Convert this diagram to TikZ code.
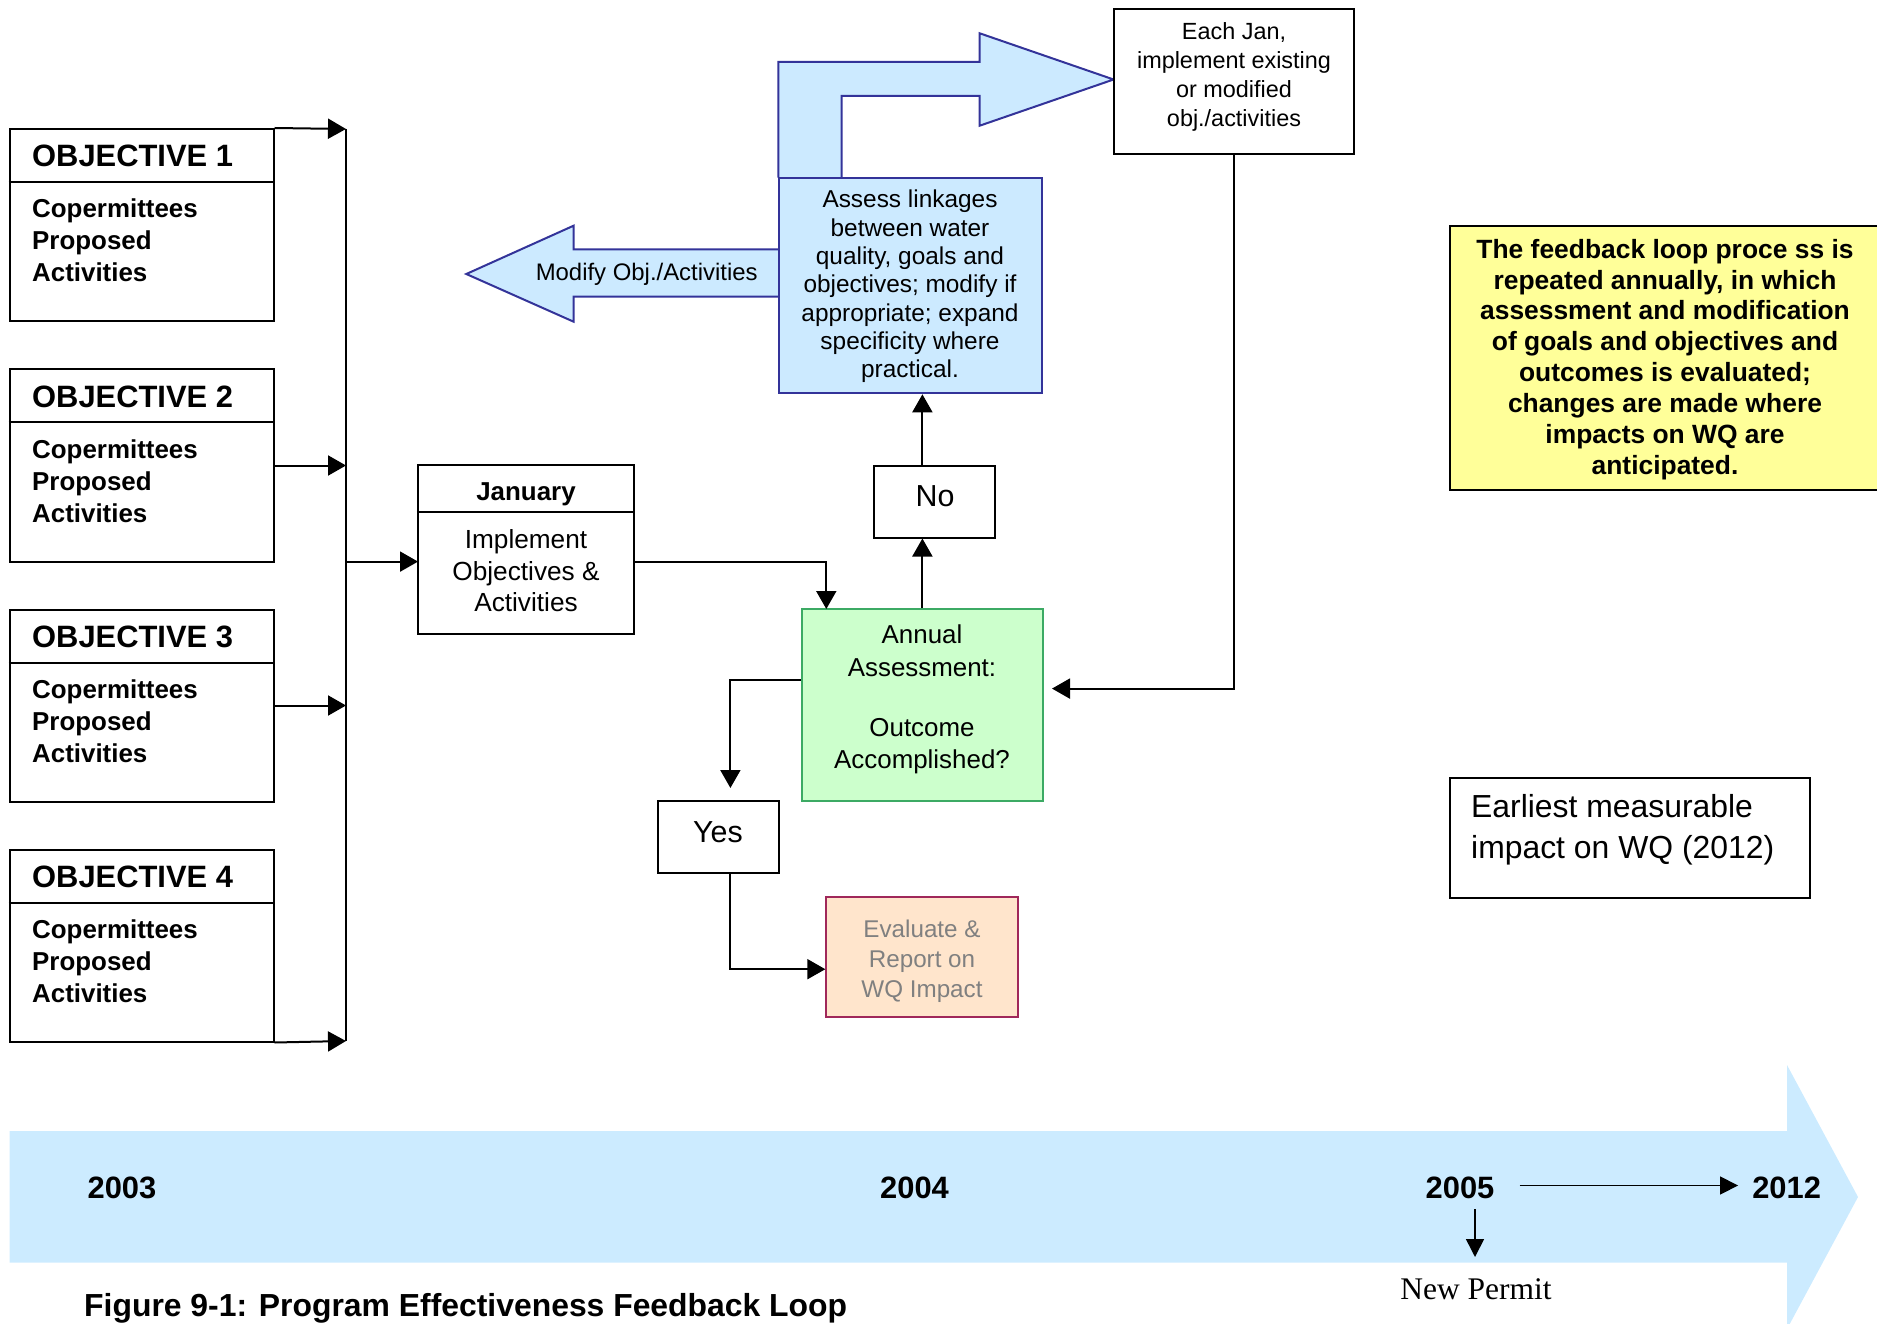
\documentclass[tikz,border=0pt]{standalone}
\usepackage{fontspec}
\setmainfont{Liberation Sans}
\newfontfamily\seriffont{Liberation Serif}
\usetikzlibrary{arrows.meta}
\newcommand\fsz[2]{\fontsize{#1}{#2}\selectfont}
\definecolor{asFill}{RGB}{204,234,255}
\definecolor{asBorder}{RGB}{51,51,153}
\definecolor{tlFill}{RGB}{204,235,255}
\definecolor{anFill}{RGB}{204,255,204}
\definecolor{anBorder}{RGB}{60,170,100}
\definecolor{evFill}{RGB}{255,229,204}
\definecolor{evBorder}{RGB}{160,40,90}
\definecolor{evText}{RGB}{128,128,128}
\definecolor{yelFill}{RGB}{255,255,153}
\tikzset{
  box/.style={draw=black, line width=2bp, rectangle, inner sep=0pt, fill=white},
  ln/.style={line width=2bp},
  arr/.style={line width=2bp, -{Triangle[length=18bp,width=20bp]}},
  tarr/.style={line width=1.6bp, -{Triangle[length=18bp,width=18bp]}},
  txt/.style={inner sep=0pt, align=center},
  objtitle/.style={inner sep=0pt, anchor=west, font=\fsz{31}{37}\bfseries},
  objbody/.style={inner sep=0pt, anchor=west, align=left, font=\fsz{26}{32.3}\bfseries},
  year/.style={inner sep=0pt, font=\fsz{31}{37}\bfseries},
  bigarrow/.style={fill=asFill, draw=asBorder, line width=2bp, line join=miter}
}
\begin{document}
\begin{tikzpicture}[x=1bp,y=-1bp]
\useasboundingbox (0,0) rectangle (1877,1324);
\clip (0,0) rectangle (1877,1324);

% timeline arrow
\fill[tlFill] (9.6,1131) -- (1787,1131) -- (1787,1065) -- (1858,1197) -- (1787,1329) -- (1787,1262.7) -- (9.6,1262.7) -- cycle;

% objective boxes
\foreach \i/\t in {1/129,2/369.5,3/609.5,4/849.5}{
  \node[box, minimum width=264bp, minimum height=192bp] (obj\i) at (141.7,\t+96) {};
  \draw[ln] ([yshift=-54bp]obj\i.north west) -- ([yshift=-54bp]obj\i.north east);
  \node[objtitle] (objt\i) at (32,\t+27) {OBJECTIVE \i};
  \node[objbody] (objb\i) at (32,\t+111.5) {Copermittees\\Proposed\\Activities};
}

% spine
\coordinate (spineTop) at (346,129);
\coordinate (spineBot) at (346,1041);
\draw[ln] (spineTop) -- (spineBot);
\draw[arr] (obj1.north east) -- (spineTop);
\draw[arr] (obj2.east) -- (obj2.east -| spineTop);
\draw[arr] (obj3.east) -- (obj3.east -| spineTop);
\draw[arr] (obj4.south east) -- (spineBot);

% January
\node[box, minimum width=216.5bp, minimum height=168bp] (jan) at (526,549.5) {};
\draw[ln] ([yshift=-47.8bp]jan.north west) -- ([yshift=-47.8bp]jan.north east);
\node[txt, font=\fsz{26}{31}\bfseries] (janT) at (526,494) {January};
\node[txt, font=\fsz{26.3}{31.6}] (janB) at (526,571) {Implement\\Objectives \&\\Activities};
\coordinate (janIn) at (418,561.6);
\draw[arr] (janIn -| spineTop) -- (janIn);

% big bent arrow (top)
\draw[bigarrow] (778.4,177.7) -- (778.4,62) -- (979.7,62) -- (979.7,33.3) -- (1113.6,79.5) -- (979.7,125.7) -- (979.7,96) -- (841.5,96) -- (841.5,177.7);
% left arrow
\draw[bigarrow] (778.4,249.3) -- (573.6,249.3) -- (573.6,225.7) -- (466.3,274) -- (573.6,321.7) -- (573.6,296.7) -- (778.4,296.7);
\node[txt, font=\fsz{24}{28}] (modT) at (646.7,274) {Modify Obj./Activities};

% Assess box
\node[box, draw=asBorder, fill=asFill, minimum width=263bp, minimum height=215.6bp] (assess) at (910,285.5) {};
\node[txt, font=\fsz{24.5}{28.4}] (assessT) at (910,286.5) {Assess linkages\\between water\\quality, goals and\\objectives; modify if\\appropriate; expand\\specificity where\\practical.};

% Each Jan box
\node[box, minimum width=240.5bp, minimum height=144.5bp] (eachjan) at (1234,81.7) {};
\node[txt, font=\fsz{23.5}{29.3}] (eachjanT) at (1234,77) {Each Jan,\\implement existing\\or modified\\obj./activities};

% No box
\node[box, minimum width=120.6bp, minimum height=72bp] (no) at (934.3,501.5) {};
\node[txt, font=\fsz{30.5}{36}] (noT) at (935,496) {No};

% Annual
\node[box, draw=anBorder, fill=anFill, minimum width=241bp, minimum height=192.4bp] (annual) at (922.4,705.2) {};
\node[txt, font=\fsz{26}{32.4}] (annualT) at (922,699.5) {Annual\\Assessment:\\[28bp]Outcome\\Accomplished?};

% Yes
\node[box, minimum width=120.6bp, minimum height=72.7bp] (yes) at (718.3,837) {};
\node[txt, font=\fsz{30.5}{36}] (yesT) at (718,832) {Yes};

% Evaluate
\node[box, draw=evBorder, fill=evFill, minimum width=192bp, minimum height=120.4bp] (eval) at (922.3,957.2) {};
\node[txt, font=\fsz{24.3}{30}, text=evText] (evalT) at (922,961) {Evaluate \&\\Report on\\WQ Impact};

% connectors of the loop
\coordinate (annIn) at (826.3,609);
\draw[arr] (janIn -| jan.east) -| (annIn);
\draw[arr] (annual.north) -- (annual.north |- no.south);
\draw[arr] (annual.north |- no.north) -- (annual.north |- assess.south);
\coordinate (yesIn) at (730.4,788);
\draw[arr] ([yshift=25bp]annual.west) -| (yesIn);
\draw[arr] (yesIn |- yes.south) |- ([yshift=-12bp]eval.west);
\coordinate (annRight) at (1052,688.6);
\draw[arr] (eachjan.south) |- (annRight);

% yellow note
\node[box, fill=yelFill, minimum width=432bp, minimum height=263.8bp] (note) at (1666,357.6) {};
\node[txt, font=\fsz{26.5}{31}\bfseries] (noteT) at (1665,359.5) {The feedback loop proce ss is\\repeated annually, in which\\assessment and modification\\of goals and objectives and\\outcomes is evaluated;\\changes are made where\\impacts on WQ are\\anticipated.};

% earliest box
\node[box, minimum width=360.4bp, minimum height=119.6bp] (earliest) at (1629.8,837.8) {};
\node[txt, anchor=west, align=left, font=\fsz{32}{40.7}] (earliestT) at (1471,829.5) {Earliest measurable\\impact on WQ (2012)};

% timeline labels
\node[year] (y2003) at (122,1188) {2003};
\node[year] (y2004) at (914.5,1188) {2004};
\node[year] (y2005) at (1460,1188) {2005};
\node[year] (y2012) at (1786.6,1188) {2012};
\draw[tarr] ([xshift=25bp,yshift=2.5bp]y2005.east) -- ([xshift=-14bp,yshift=2.5bp]y2012.west);
\node[inner sep=0pt, font=\seriffont\fsz{31.6}{36}] (newp) at (1476,1289) {New Permit};
\coordinate (npTop) at (1475,1209);
\coordinate (npBot) at (1475,1257);
\draw[tarr] (npTop) -- (npBot);

% caption
\node[inner sep=0pt, anchor=base west, font=\fsz{32}{38}\bfseries] (caption) at (84,1316.5) {Figure 9-1: Program Effectiveness Feedback Loop};
\end{tikzpicture}
\end{document}
